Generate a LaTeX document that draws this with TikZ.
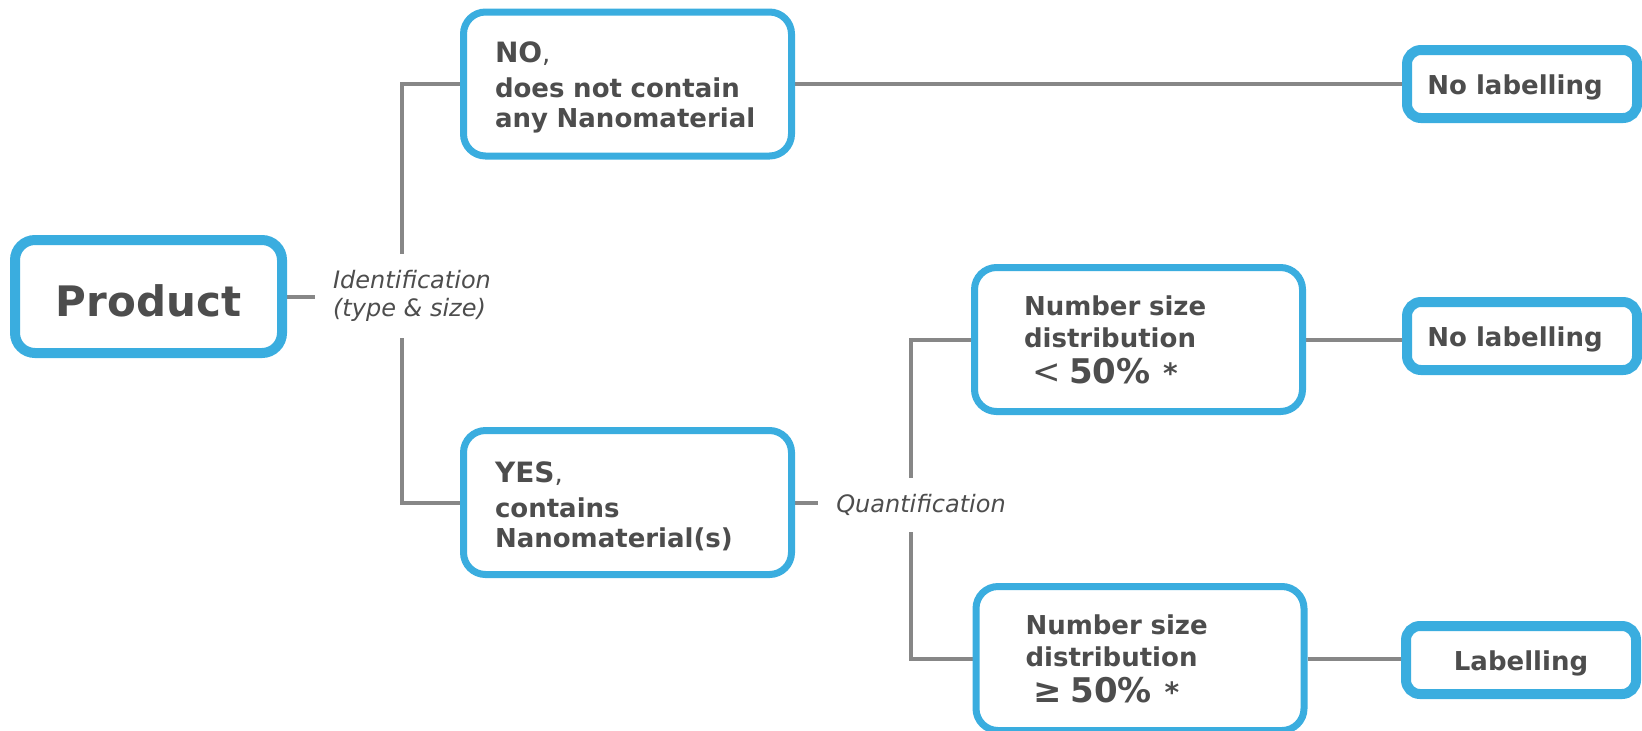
\documentclass[tikz,border=0pt]{standalone}
\usepackage{fontspec}
\setmainfont{DejaVu Sans}[BoldFont={DejaVu Sans Bold},ItalicFont={DejaVu Sans Oblique},BoldItalicFont={DejaVu Sans Bold Oblique}]
\usetikzlibrary{backgrounds}
\definecolor{nanoblue}{RGB}{58,173,223}
\definecolor{linegray}{RGB}{135,135,135}
\definecolor{textgray}{RGB}{77,77,77}
\begin{document}
\begin{tikzpicture}[x=0.5pt,y=-0.5pt,
    box/.style={draw=nanoblue,line width=3.5pt,rounded corners=11pt,fill=white,text=textgray,
        font=\bfseries\fontsize{13}{15}\selectfont,align=left,minimum width=164pt,minimum height=72pt,inner ysep=0pt},
    endbox/.style={draw=nanoblue,line width=5pt,rounded corners=7pt,fill=white,text=textgray,
        font=\bfseries\fontsize{13}{15}\selectfont,minimum width=115pt,minimum height=34pt,inner sep=0pt,
        text height=13.9pt,text depth=3.1pt},
    tag/.style={text=textgray,font=\itshape\fontsize{12}{14}\selectfont,align=left,inner xsep=9pt,inner ysep=8pt},
    link/.style={draw=linegray,line width=2pt}]
    \useasboundingbox (0,0) rectangle (1642,730);
    %% Root
    \node[draw=nanoblue,line width=5pt,rounded corners=10pt,fill=white,text=textgray,font=\bfseries\fontsize{21}{24}\selectfont,
        minimum width=133.5pt,minimum height=56.5pt,text height=20pt,text depth=0pt] (prod) at (148.5,296.5) {Product};
    \node[tag] (ident) at (412,296) {Identification\\(type \& size)};
    %% Identification
    \node[box,text width=132.5pt,inner xsep=15.75pt] (no) at (627.5,84)
        {\rule{0pt}{14pt}{\fontsize{14}{15}\selectfont NO}{\mdseries,}\\[2.5pt]does not contain\\any~Nanomaterial};
    \node[box,text width=132.5pt,inner xsep=15.75pt] (yes) at (627.5,502.5)
        {\rule{0pt}{14pt}{\fontsize{14}{15}\selectfont YES}{\mdseries,}\\[2.5pt]contains\\Nanomaterial(s)};
    \node[tag] (quant) at (921,505) {Quantification};
    %% Quantification
    \node[box,text width=114.5pt,inner xsep=24.75pt,font=\bfseries\fontsize{13}{16}\selectfont] (small) at (1138.5,339.5)
        {Number size\\distribution\\[2pt]\hspace*{4pt}{\fontsize{17}{18}\selectfont{\mdseries<}~50\%~}\hspace{2pt}{\fontsize{14}{16}\selectfont*}};
    \node[box,text width=114.5pt,inner xsep=24.75pt,font=\bfseries\fontsize{13}{16}\selectfont] (large) at (1140,658.5)
        {Number size\\distribution\\[2pt]\hspace*{4pt}{\fontsize{17}{18}\selectfont ≥~50\%~}\hspace{2pt}{\fontsize{14}{16}\selectfont*}};
    %% Outcome
    \node[endbox] (nolab1) at (1522,84) {No labelling\hspace*{7pt}};
    \node[endbox] (nolab2) at (1522,336) {No labelling\hspace*{7pt}};
    \node[endbox] (lab) at (1521,660) {Labelling};
    %% Lines
    \coordinate (idsplit) at (402,296);
    \coordinate (qsplit) at (911,505);
    \begin{scope}[on background layer]
        \draw[link] (prod.east) -- (prod.east -| ident.west);
        \draw[link] (idsplit |- ident.north) |- (no.west);
        \draw[link] (idsplit |- ident.south) |- (yes.west);
        \draw[link] (yes.east) -- (yes.east -| quant.west);
        \draw[link] (qsplit |- quant.north) |- (small.west);
        \draw[link] (qsplit |- quant.south) |- (large.west);
        \draw[link] (no.east) -- (nolab1.west);
        \draw[link] (small.east) -- (small.east -| nolab2.west);
        \draw[link] (large.east) -- (large.east -| lab.west);
    \end{scope}
\end{tikzpicture}
\end{document}
